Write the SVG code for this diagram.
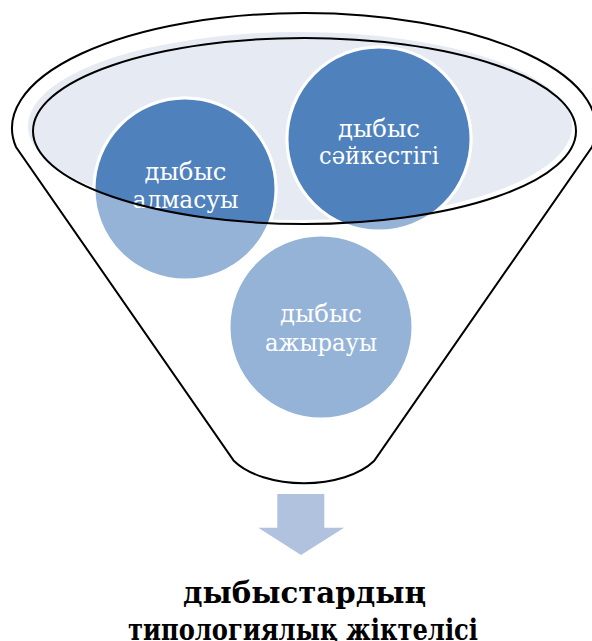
<svg xmlns="http://www.w3.org/2000/svg" width="592" height="641" viewBox="0 0 592 641">
<style>
.outline{fill:none;stroke:#000;stroke-width:2}
.ctext{font-family:"DejaVu Serif",serif;font-size:24px;fill:#fff;text-anchor:middle}
.light{fill:#95B3D7;stroke:#fff;stroke-width:3}
.dark{fill:#4F81BD;stroke:#fff;stroke-width:3}
.title{font-family:"DejaVu Serif",serif;font-size:29px;font-weight:bold;fill:#000;text-anchor:middle}
</style>
<defs>
<clipPath id="inner"><ellipse cx="304.5" cy="131" rx="271.5" ry="93"/></clipPath>
</defs>
<g id="funnel">
<path d="M 16 147 A 292 115 0 1 1 592 147 L 374 461 A 80 43 0 0 1 234 461 Z" fill="#fff" stroke="#000" stroke-width="2"/>
<ellipse cx="300" cy="126" rx="272" ry="94" fill="#E5EAF3"/>
</g>
<g id="node-almasuy">
<circle class="light" cx="185" cy="189" r="91"/>
<circle class="dark" cx="185" cy="189" r="91" clip-path="url(#inner)"/>
</g>
<g id="node-saikestigi">
<circle class="light" cx="379" cy="139" r="92"/>
<circle class="dark" cx="379" cy="139" r="92" clip-path="url(#inner)"/>
</g>
<g id="node-azhyrauy">
<circle class="light" cx="321" cy="327" r="92"/>
</g>
<g id="labels">
<text class="ctext" x="185.5" y="180" textLength="82" lengthAdjust="spacingAndGlyphs">дыбыс</text>
<text class="ctext" x="185.5" y="208" textLength="106" lengthAdjust="spacingAndGlyphs">алмасуы</text>
<text class="ctext" x="379" y="137" textLength="82" lengthAdjust="spacingAndGlyphs">дыбыс</text>
<text class="ctext" x="379" y="164" textLength="120" lengthAdjust="spacingAndGlyphs">сәйкестігі</text>
<text class="ctext" x="321" y="322" textLength="82" lengthAdjust="spacingAndGlyphs">дыбыс</text>
<text class="ctext" x="321" y="351" textLength="112" lengthAdjust="spacingAndGlyphs">ажырауы</text>
</g>
<g id="rim">
<ellipse class="outline" cx="304.5" cy="131" rx="271.5" ry="93"/>
</g>
<g id="connectors">
<polygon points="277.3,494 324.3,494 324.3,527.7 344,527.7 301,555 258.3,527.7 277.3,527.7" fill="#B0C2DE"/>
</g>
<g id="result">
<text class="title" x="304.5" y="603" textLength="243" lengthAdjust="spacingAndGlyphs">дыбыстардың</text>
<text class="title" x="303" y="640" textLength="350" lengthAdjust="spacingAndGlyphs">типологиялық жіктелісі</text>
</g>
</svg>
